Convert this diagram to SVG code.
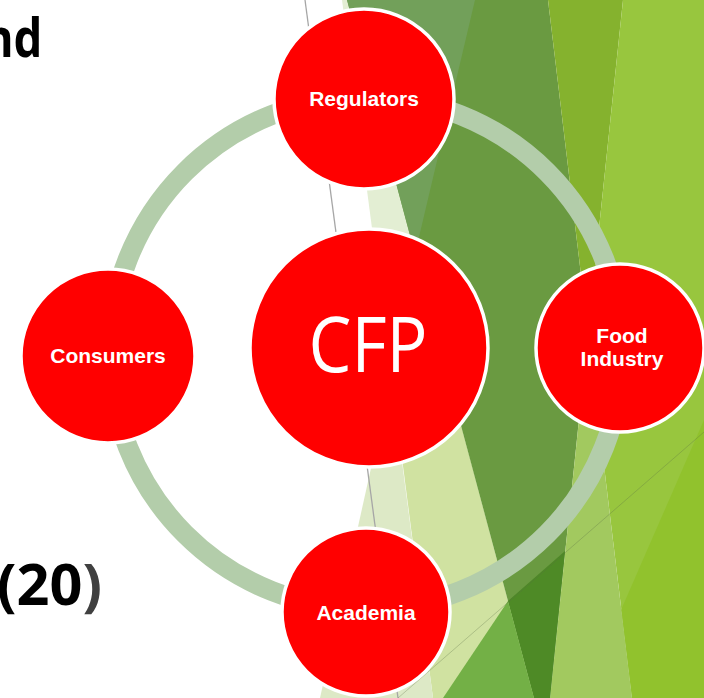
<svg xmlns="http://www.w3.org/2000/svg" width="704" height="698" viewBox="0 0 704 698">
  <style>
    .node circle { fill: #ff0000; stroke: #ffffff; stroke-width: 3.5; }
    .label { font-family: "Liberation Sans", Arial, sans-serif; font-weight: bold; font-size: 21px; fill: #ffffff; text-anchor: middle; }
    .hub { font-family: "Open Sans", "Noto Sans", sans-serif; font-size: 77px; fill: #ffffff; text-anchor: middle; }
    .title { font-family: "Noto Sans", "Open Sans", sans-serif; font-weight: bold; fill: #000000; }
  </style>

  <!-- slide background -->
  <rect width="704" height="698" fill="#ffffff"/>

  <!-- faceted green backdrop -->
  <g id="backdrop">
    <polygon points="342,0 347,0 441,350 388,350" fill="#e3eed3"/>
    <polygon points="388,350 441,350 534,698 433,698" fill="#d0e2a1"/>
    <polygon points="391,378 433,698 320,698" fill="#dde9c6"/>
    <polygon points="347,0 548,0 588,333 550,698 534,698" fill="#6a9a41"/>
    <polygon points="347,0 475,0 415,254" fill="#72a05a"/>
    <polygon points="548,0 623,0 588,333" fill="#85b22e"/>
    <polygon points="623,0 704,0 704,698 632,698 588,333" fill="#98c63e"/>
    <polygon points="704,420 621,610 632,698 704,698" fill="#91c22d"/>
    <polygon points="588,333 632,698 550,698" fill="#a2c95f"/>
    <polygon points="508,601 565,551 550,698 534,698" fill="#4e8a26"/>
    <polygon points="443,698 508,601 534,698" fill="#73b046"/>
    <line x1="305" y1="0" x2="398" y2="698" stroke="#a6a6a6" stroke-width="1.3"/>
    <line x1="398" y1="698" x2="704" y2="432" stroke="#5a6e46" stroke-opacity="0.3" stroke-width="1"/>
  </g>

  <!-- heading fragments running off the slide edge -->
  <text class="title" x="-16" y="57" font-size="54" textLength="58" lengthAdjust="spacingAndGlyphs">nd</text>
  <text class="title" x="-3" y="605" font-size="58" textLength="105" lengthAdjust="spacingAndGlyphs">(20<tspan fill="#404040">)</tspan></text>

  <!-- connectors: the cycle ring -->
  <g id="connectors">
    <circle cx="366" cy="353" r="256" fill="none" stroke="#b3cdaa" stroke-width="20"/>
  </g>

  <g id="node-regulators" class="node">
    <circle cx="364" cy="99" r="90"/>
    <text class="label" x="364" y="106">Regulators</text>
  </g>
  <g id="node-consumers" class="node">
    <circle cx="108" cy="356" r="87"/>
    <text class="label" x="108" y="363">Consumers</text>
  </g>
  <g id="node-food-industry" class="node">
    <circle cx="620" cy="348" r="84"/>
    <text class="label" x="622" y="343">Food</text>
    <text class="label" x="622" y="366">Industry</text>
  </g>
  <g id="node-academia" class="node">
    <circle cx="366" cy="612" r="84"/>
    <text class="label" x="366" y="620">Academia</text>
  </g>
  <g id="node-cfp" class="node">
    <circle cx="369" cy="348" r="119"/>
    <text class="hub" x="368" y="372" textLength="119" lengthAdjust="spacingAndGlyphs">CFP</text>
  </g>
</svg>
